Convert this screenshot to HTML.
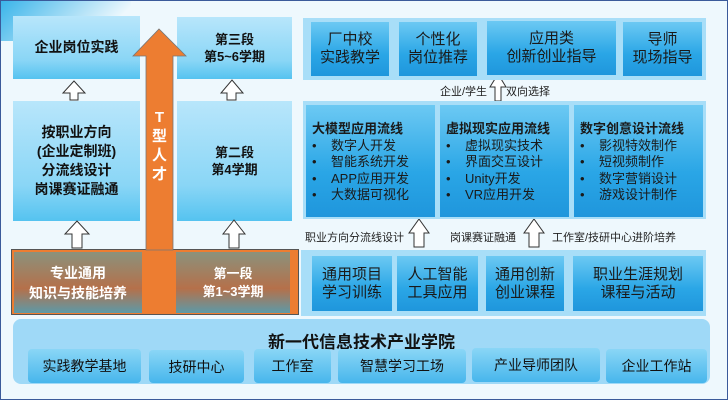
<!DOCTYPE html>
<html><head><meta charset="utf-8"><style>
body{margin:0;}
#c{position:relative;width:726px;height:398px;border:1px solid #3a5a9a;background:#eef8fd;overflow:hidden;font-family:"Liberation Sans","Noto Sans CJK SC",sans-serif;color:#111;}
.a{position:absolute;box-sizing:border-box;display:flex;align-items:center;justify-content:center;text-align:center;}
.lb{background:linear-gradient(#b8e6fb,#8ad6f6 70%,#55c3f0);font-weight:bold;font-size:14px;line-height:19px;}
.pn{background:#a8def8;}
.bi{background:linear-gradient(#6cc9f3,#2aa6e6 60%,#1f96dc);font-size:15px;line-height:18px;color:#1a1a1a;}
.or{background:#ed7d31;}
.og{background:linear-gradient(#8b927c,#b5704a 60%,#5c9aa8);color:#fff;font-weight:bold;font-size:14px;line-height:20px;}
.lbl{position:absolute;font-size:11px;color:#222;white-space:nowrap;}
.sb{background:linear-gradient(#8ad6f6,#47b6ec);border-radius:4px;font-size:14px;white-space:nowrap;}
</style></head><body><div id="c">
<div style="position:absolute;left:0;top:0;width:130px;height:40px;background:linear-gradient(135deg,#3ab4ea,#eef8fd 80%);"></div>
<div class="a lb" style="left:12px;top:15px;width:127px;height:63px;font-size:14px;">企业岗位实践</div>
<div class="a lb" style="left:12px;top:100px;width:127px;height:120px;">按职业方向<br>(企业定制班)<br>分流线设计<br>岗课赛证融通</div>
<div class="a lb" style="left:176px;top:16px;width:115px;height:62px;font-size:13px;line-height:17px;">第三段<br>第5~6学期</div>
<div class="a lb" style="left:176px;top:100px;width:115px;height:120px;font-size:13px;line-height:17px;">第二段<br>第4学期</div>
<div class="a or" style="left:10px;top:248px;width:288px;height:66px;border:1px solid #555;"></div>
<div class="a og" style="left:13px;top:251px;width:128px;height:61px;">专业通用<br>知识与技能培养</div>
<div class="a og" style="left:175px;top:251px;width:114px;height:61px;font-size:13px;line-height:18px;">第一段<br>第1~3学期</div>
<svg style="position:absolute;left:0;top:0" width="726" height="398">
<polygon points="145,249 145,55 132,55 158,28 185,55 172,55 172,249" fill="#ed7d31" stroke="#777" stroke-width="0.8"/>
<g fill="#fff" stroke="#333" stroke-width="1">
<polygon points="69,99 69,92 62,92 73,80 84,92 77,92 77,99"/>
<polygon points="226,99 226,92 220,92 231,79 242,92 235,92 235,99"/>
<polygon points="71,247 71,233 64,233 76,220 88,233 81,233 81,247"/>
<polygon points="228,247 228,233 222,233 233,219 244,233 238,233 238,247"/>
<polygon points="494,100 494,86 489,86 497,73 505,86 500,86 500,100"/>
<polygon points="413,246 413,232 408,232 418,218 428,232 423,232 423,246"/>
<polygon points="528,246 528,232 523,232 533,218 543,232 538,232 538,246"/>
</g>
</svg>
<div class="a" style="left:145px;top:100px;width:27px;height:90px;color:#fff;font-weight:bold;font-size:15px;line-height:19px;">T<br>型<br>人<br>才</div>
<div class="a pn" style="left:302px;top:17px;width:403px;height:62px;"></div>
<div class="a bi" style="left:310px;top:21px;width:78px;height:54px;">厂中校<br>实践教学</div>
<div class="a bi" style="left:398px;top:21px;width:78px;height:54px;">个性化<br>岗位推荐</div>
<div class="a bi" style="left:486px;top:20px;width:129px;height:54px;">应用类<br>创新创业指导</div>
<div class="a bi" style="left:622px;top:21px;width:79px;height:54px;">导师<br>现场指导</div>
<div class="lbl" style="left:439px;top:82px;">企业/学生</div>
<div class="lbl" style="left:505px;top:82px;">双向选择</div>
<div class="a pn" style="left:302px;top:100px;width:403px;height:118px;"></div>
<div class="a bi" style="left:305px;top:104px;width:129px;height:112px;justify-content:flex-start;align-items:flex-start;text-align:left;padding:16px 0 0 6px;font-size:13px;line-height:16.5px;">
<div><b>大模型应用流线</b><br>•&nbsp;&nbsp;&nbsp;&nbsp;数字人开发<br>•&nbsp;&nbsp;&nbsp;&nbsp;智能系统开发<br>•&nbsp;&nbsp;&nbsp;&nbsp;APP应用开发<br>•&nbsp;&nbsp;&nbsp;&nbsp;大数据可视化</div></div>
<div class="a bi" style="left:439px;top:104px;width:129px;height:112px;justify-content:flex-start;align-items:flex-start;text-align:left;padding:16px 0 0 6px;font-size:13px;line-height:16.5px;">
<div><b>虚拟现实应用流线</b><br>•&nbsp;&nbsp;&nbsp;&nbsp;虚拟现实技术<br>•&nbsp;&nbsp;&nbsp;&nbsp;界面交互设计<br>•&nbsp;&nbsp;&nbsp;&nbsp;Unity开发<br>•&nbsp;&nbsp;&nbsp;&nbsp;VR应用开发</div></div>
<div class="a bi" style="left:573px;top:104px;width:129px;height:112px;justify-content:flex-start;align-items:flex-start;text-align:left;padding:16px 0 0 6px;font-size:13px;line-height:16.5px;">
<div><b>数字创意设计流线</b><br>•&nbsp;&nbsp;&nbsp;&nbsp;影视特效制作<br>•&nbsp;&nbsp;&nbsp;&nbsp;短视频制作<br>•&nbsp;&nbsp;&nbsp;&nbsp;数字营销设计<br>•&nbsp;&nbsp;&nbsp;&nbsp;游戏设计制作</div></div>
<div class="lbl" style="left:304px;top:228px;">职业方向分流线设计</div>
<div class="lbl" style="left:449px;top:228px;">岗课赛证融通</div>
<div class="lbl" style="left:551px;top:228px;">工作室/技研中心进阶培养</div>
<div class="a pn" style="left:300px;top:249px;width:405px;height:66px;"></div>
<div class="a bi" style="left:311px;top:255px;width:80px;height:55px;">通用项目<br>学习训练</div>
<div class="a bi" style="left:396px;top:255px;width:81px;height:55px;">人工智能<br>工具应用</div>
<div class="a bi" style="left:485px;top:255px;width:78px;height:55px;">通用创新<br>创业课程</div>
<div class="a bi" style="left:572px;top:255px;width:130px;height:55px;">职业生涯规划<br>课程与活动</div>
<div class="a" style="left:12px;top:318px;width:697px;height:65px;background:#9fd9f7;border-radius:8px;"></div>
<div class="a" style="left:12px;top:328px;width:697px;height:22px;font-weight:bold;font-size:17px;">新一代信息技术产业学院</div>
<div class="a sb" style="left:27px;top:348px;width:113px;height:34px;">实践教学基地</div>
<div class="a sb" style="left:148px;top:349px;width:95px;height:33px;">技研中心</div>
<div class="a sb" style="left:253px;top:348px;width:77px;height:34px;">工作室</div>
<div class="a sb" style="left:337px;top:348px;width:128px;height:34px;">智慧学习工场</div>
<div class="a sb" style="left:471px;top:347px;width:128px;height:34px;">产业导师团队</div>
<div class="a sb" style="left:605px;top:348px;width:101px;height:34px;">企业工作站</div>
</div></body></html>
